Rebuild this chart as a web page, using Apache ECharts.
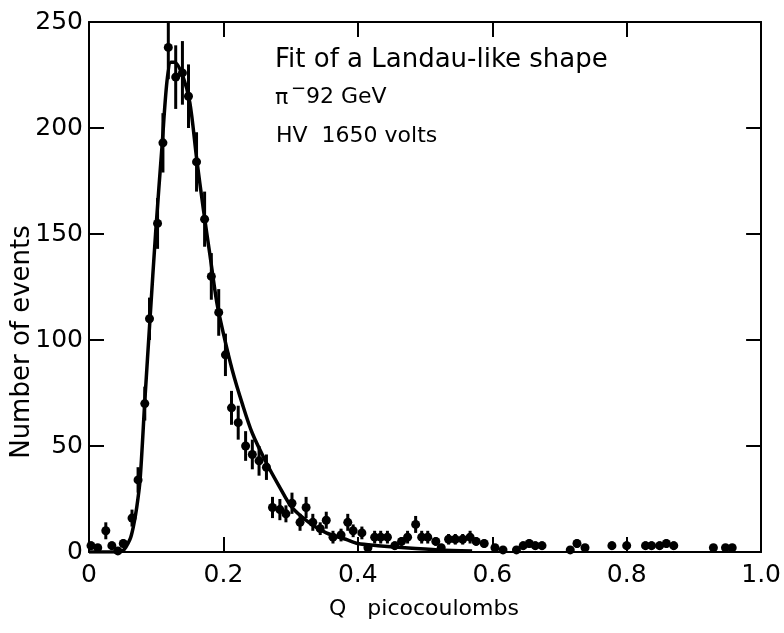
<!DOCTYPE html>
<html>
<head>
<meta charset="utf-8">
<script src="https://cdn.jsdelivr.net/npm/echarts/dist/echarts.min.js"></script>
<style>
html,body{margin:0;padding:0;background:#fff;}
#chart{width:784px;height:633px;}
</style>
</head>
<body>
<div id="chart"></div>
<script>
// Measured histogram points (Q in picocoulombs, number of events, error bar half-height)
const qValues = [0.003,0.013,0.025,0.034,0.043,0.051,0.064,0.073,0.083,0.090,
  0.102,0.110,0.118,0.129,0.139,0.148,0.160,0.172,0.182,0.193,
  0.203,0.212,0.222,0.233,0.243,0.253,0.264,0.273,0.284,0.293,
  0.302,0.314,0.323,0.333,0.344,0.353,0.363,0.375,0.385,0.393,
  0.406,0.415,0.425,0.434,0.444,0.455,0.465,0.474,0.486,0.495,
  0.504,0.516,0.524,0.535,0.545,0.556,0.567,0.576,0.588,0.604,
  0.616,0.636,0.646,0.655,0.664,0.674,0.716,0.726,0.738,0.778,
  0.800,0.828,0.837,0.849,0.859,0.870,0.929,0.947,0.957];
const counts = [3,2,10,3,0.5,4,16,34,70,110,
  155,193,238,224,226,215,184,157,130,113,
  93,68,61,50,46,43,40,21,20,18,
  23,14,21,14,11,15,7,8,14,10,
  9,2,7,7,7,3,5,7,13,7,
  7,5,2,6,6,6,7,5,4,2,
  1,1,3,4,3,3,1,4,2,3,
  3,3,3,3,4,3,2,2,2];
const errors = [2,1.5,4,2,0,2,4,6,8,10,
  12,14,15,15,15,15,14,13,11,11,
  10,8,8,7,7,7,6,5,5,4,
  5,4,5,4,3,4,3,3,4,3,
  3,1.5,3,3,3,2,2,3,4,3,
  3,2,1.5,2.5,2.5,2.5,3,2,2,1.5,
  1,1,2,2,2,2,1,2,1.5,2,
  2,2,2,2,2,2,1.5,1.5,1.5];

// Fitted Landau-like curve
const fitQ = [0,0.040,0.050,0.061,0.066,0.071,0.076,0.083,0.091,0.099,
  0.109,0.116,0.122,0.127,0.139,0.150,0.160,0.170,0.180,0.190,
  0.200,0.213,0.228,0.243,0.264,0.283,0.302,0.327,0.353,0.382,
  0.400,0.430,0.470,0.520,0.570];
const fitCounts = [0,0,0.5,6,12,21,34,71,111,150,
  193,222,231,231,225,212,186,162,140,118,
  103,86,70,56,42,31,21,14,9,6,
  4,3,2,1,0.5];

const xTickLabels = ['0','0.2','0.4','0.6','0.8','1.0'];
const yTickLabels = ['0','50','100','150','200','250'];

const FONT = 'DejaVu Sans';
const chart = echarts.init(document.getElementById('chart'), null, {renderer:'canvas'});

const axisLineStyle = {color:'#000', width:2};
const tickStyle = {color:'#000', width:2};

function txt(x, y, text, size, extra) {
  return Object.assign({type:'text', x:x, y:y,
    style:Object.assign({text:text, fontSize:size, fontFamily:FONT, fill:'#000', verticalAlign:'middle'}, extra || {})});
}

const option = {
  backgroundColor:'#fff',
  animation:false,
  grid:{left:89, right:22, top:22, bottom:81, containLabel:false},
  xAxis:[
    {type:'value', min:0, max:1, interval:0.2, position:'bottom',
      axisLine:{show:true, onZero:false, lineStyle:axisLineStyle},
      axisTick:{show:true, inside:true, length:15, lineStyle:tickStyle},
      axisLabel:{show:true, margin:11, fontSize:25, fontFamily:FONT, color:'#000',
        formatter:(v)=>xTickLabels[Math.round(v/0.2)]},
      splitLine:{show:false}},
    {type:'value', min:0, max:1, interval:0.2, position:'top',
      axisLine:{show:true, onZero:false, lineStyle:axisLineStyle},
      axisTick:{show:true, inside:true, length:15, lineStyle:tickStyle},
      axisLabel:{show:false}, splitLine:{show:false}}
  ],
  yAxis:[
    {type:'value', min:0, max:250, interval:50, position:'left',
      axisLine:{show:true, onZero:false, lineStyle:axisLineStyle},
      axisTick:{show:true, inside:true, length:15, lineStyle:tickStyle},
      axisLabel:{show:true, margin:6, fontSize:25, fontFamily:FONT, color:'#000',
        formatter:(v)=>yTickLabels[Math.round(v/50)]},
      splitLine:{show:false}},
    {type:'value', min:0, max:250, interval:50, position:'right',
      axisLine:{show:true, onZero:false, lineStyle:axisLineStyle},
      axisTick:{show:true, inside:true, length:15, lineStyle:tickStyle},
      axisLabel:{show:false}, splitLine:{show:false}}
  ],
  series:[
    {type:'line', name:'fit', xAxisIndex:0, yAxisIndex:0,
      data:fitQ.map((q,i)=>[q, fitCounts[i]]),
      showSymbol:false, smooth:0.3, lineStyle:{color:'#000', width:3.5}, z:2},
    {type:'custom', name:'errors', xAxisIndex:0, yAxisIndex:0, clip:true,
      data:qValues.map((q,i)=>[q, counts[i]-errors[i], counts[i]+errors[i]]),
      encode:{x:0, y:[1,2]},
      renderItem:(params, api)=>{
        const p1 = api.coord([api.value(0), api.value(1)]);
        const p2 = api.coord([api.value(0), api.value(2)]);
        return {type:'line', shape:{x1:p1[0], y1:p1[1], x2:p2[0], y2:p2[1]},
          style:{stroke:'#000', lineWidth:3}};
      }, z:3},
    {type:'scatter', name:'data', xAxisIndex:0, yAxisIndex:0,
      data:qValues.map((q,i)=>[q, counts[i]]),
      symbol:'circle', symbolSize:9, itemStyle:{color:'#000', opacity:1}, z:4}
  ],
  graphic:[
    txt(275, 60, 'Fit of a Landau-like shape', 26),
    txt(275, 98, 'π', 22),
    txt(291, 89, '−', 18),
    txt(306, 97, '92 GeV', 22),
    txt(276, 136, 'HV  1650 volts', 22),
    txt(424, 609, 'Q   picocoulombs', 22, {align:'center'}),
    Object.assign(txt(22, 342, 'Number of events', 26, {align:'center'}), {rotation:Math.PI/2})
  ]
};
chart.setOption(option);
</script>
</body>
</html>
